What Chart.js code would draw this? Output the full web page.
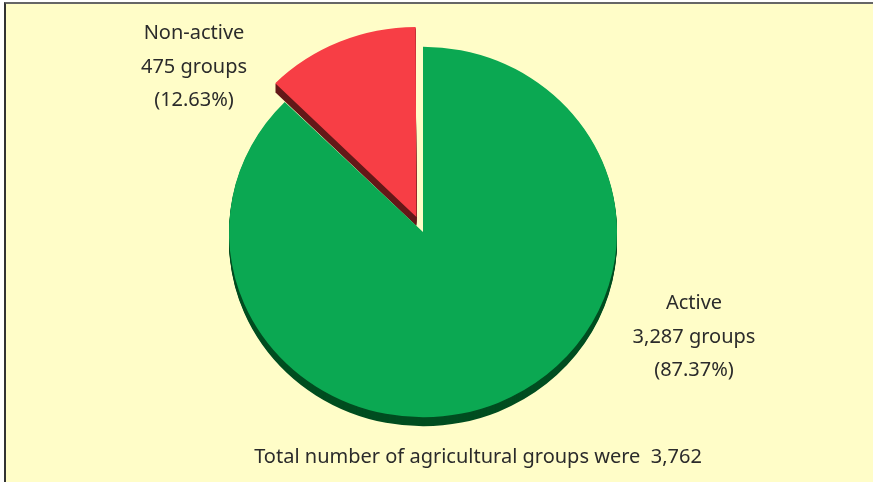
<!DOCTYPE html>
<html>
<head>
<meta charset="utf-8">
<script src="https://cdn.jsdelivr.net/npm/chart.js@4"></script>
<style>
  html, body { margin: 0; padding: 0; background: #fff; }
  #frame {
    position: absolute; left: 4px; top: 2px; width: 869px; height: 480px;
    background: #FFFDC8; border-top: 2px solid #666; border-left: 2px solid #333;
    box-sizing: border-box;
  }
  #chart { position: absolute; left: 0; top: 0; }
</style>
</head>
<body>
<div id="frame"></div>
<canvas id="chart" width="873" height="482"></canvas>
<script>
// Data
const categories = ['Active', 'Non-active'];
const groupCounts = [3287, 475];
const percentLabels = ['(87.37%)', '(12.63%)'];
const totalText = 'Total number of agricultural groups were  3,762';

// Styles
const faceColors = ['#0BA852', '#F73E45'];
const sideColors = ['#004D20', '#641818'];
const TILT = 0.955;
const DEPTH = 9;
const FONT = '20px "Noto Sans", sans-serif';
const TEXT_COLOR = '#2b2b2b';

// Tilt + extrusion for a pseudo 3D pie
const depthPlugin = {
  id: 'depth',
  beforeDatasetsDraw(chart) {
    const ctx = chart.ctx;
    const arcs = chart.getDatasetMeta(0).data;
    const cx = arcs[0].x, cy = arcs[0].y;
    ctx.save();
    ctx.translate(cx, cy);
    ctx.scale(1, TILT);
    ctx.translate(-cx, -cy);
    for (let d = DEPTH; d > 0; d--) {
      arcs.forEach((arc, i) => {
        const side = Object.create(arc);
        side.options = Object.assign({}, arc.options, { backgroundColor: sideColors[i], borderWidth: 0 });
        ctx.save();
        ctx.translate(0, d / TILT);
        arc.draw.call(side, ctx);
        ctx.restore();
      });
    }
  },
  afterDatasetsDraw(chart) {
    chart.ctx.restore();
  }
};

// Slice labels and footer
const labelPlugin = {
  id: 'labels',
  afterDraw(chart) {
    const ctx = chart.ctx;
    ctx.save();
    ctx.font = FONT;
    ctx.fillStyle = TEXT_COLOR;
    ctx.textAlign = 'center';
    ctx.textBaseline = 'middle';
    const spots = [[694, 303], [194, 33]];
    categories.forEach((name, i) => {
      const [x, y] = spots[i];
      ctx.fillText(name, x, y);
      ctx.fillText(groupCounts[i].toLocaleString('en-US') + ' groups', x, y + 34);
      ctx.fillText(percentLabels[i], x, y + 67);
    });
    ctx.fillText(totalText, 478, 457);
    ctx.restore();
  }
};

new Chart(document.getElementById('chart'), {
  type: 'pie',
  data: {
    labels: categories,
    datasets: [{
      data: groupCounts,
      backgroundColor: faceColors,
      borderWidth: 0,
      offset: [0, 68],
      radius: 194
    }]
  },
  options: {
    responsive: false,
    animation: false,
    layout: { padding: { left: 0, right: 27, top: 0, bottom: 18 } },
    plugins: {
      legend: { display: false },
      tooltip: { enabled: false }
    }
  },
  plugins: [depthPlugin, labelPlugin]
});
</script>
</body>
</html>
